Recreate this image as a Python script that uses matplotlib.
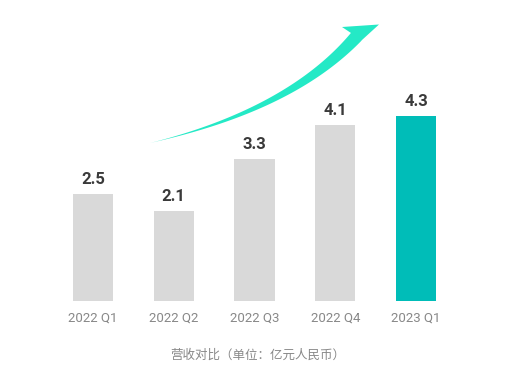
import numpy as np
import matplotlib
matplotlib.use('Agg')
import matplotlib.pyplot as plt
from matplotlib.patches import Polygon

# data
quarters = ['2022 Q1', '2022 Q2', '2022 Q3', '2022 Q4', '2023 Q1']
revenue = [2.5, 2.1, 3.3, 4.1, 4.3]
caption = '营收对比（单位：亿元人民币）'

GRAY_BAR = '#d9d9d9'
TEAL_BAR = '#00bdb8'
ARROW = '#24e9c6'

W, H = 530, 380
fig = plt.figure(figsize=(W / 100, H / 100), dpi=100, facecolor='white')

# axes placed in pixel terms: x from -0.5..4.5, y from 0..5
left_px, right_px = 52.6, 456.4
bottom_px, top_px = 301, 86
ax = fig.add_axes([left_px / W, 1 - bottom_px / H,
                   (right_px - left_px) / W, (bottom_px - top_px) / H])
ax.set_xlim(-0.5, 4.5)
ax.set_ylim(0, 5)
ax.axis('off')

x = np.arange(len(quarters))
colors = [GRAY_BAR] * (len(quarters) - 1) + [TEAL_BAR]
ax.bar(x, revenue, width=0.5, color=colors)

for xi, v in zip(x, revenue):
    ax.annotate(f'{v:.1f}', (xi, v), xytext=(0, 5), textcoords='offset points',
                ha='center', va='bottom', fontsize=12, fontweight='bold',
                color='#3a3a3a', family=['Roboto', 'DejaVu Sans'])
    ax.annotate(quarters[xi], (xi, 0), xytext=(0, -12), textcoords='offset points',
                ha='center', va='center', fontsize=9.5, color='#888888',
                family=['Roboto', 'DejaVu Sans'])

fig.text(258 / W, 1 - 355 / H, caption, ha='center', va='center', fontsize=9,
         color='#888888', family=['Noto Sans CJK SC', 'DejaVu Sans'])

# decorative swept arrow (pixel space -> figure fraction)
p0 = np.array([150.0, 143.0])
p1 = np.array([290.0, 110.0])
p2 = np.array([356.0, 37.0])
t = np.linspace(0, 1, 80)
pts = ((1 - t) ** 2)[:, None] * p0 + (2 * t * (1 - t))[:, None] * p1 + (t ** 2)[:, None] * p2
d = np.gradient(pts, axis=0)
n = np.stack([d[:, 1], -d[:, 0]], axis=1)
n /= np.linalg.norm(n, axis=1)[:, None]
half = 6.5 * t ** 1.2
upper = pts + n * half[:, None]
lower = pts - n * half[:, None]
head = np.array([[362.0, 40.0], [379.0, 24.5], [342.0, 27.0], [351.0, 33.0]])
outline = np.vstack([lower, head, upper[::-1]])
outline[:, 0] /= W
outline[:, 1] = 1 - outline[:, 1] / H
fig.patches.append(Polygon(outline, closed=True, facecolor=ARROW, edgecolor='none',
                           transform=fig.transFigure))

fig.savefig('out.png', dpi=100, facecolor='white')
